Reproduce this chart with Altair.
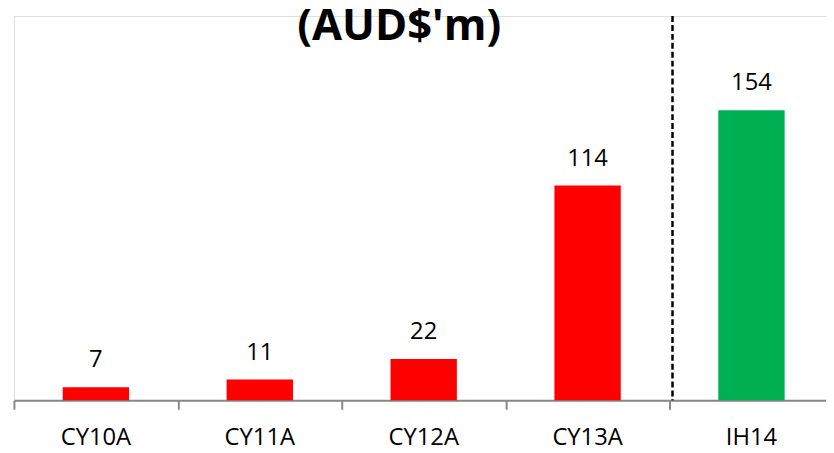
import altair as alt
import pandas as pd

categories = ["CY10A", "CY11A", "CY12A", "CY13A", "IH14"]
values = [7, 11, 22, 114, 154]
colors = ["#FF0000", "#FF0000", "#FF0000", "#FF0000", "#00B050"]
title_text = "(AUD$'m)"
divider_before = "IH14"

positions = [i + 0.5 for i in range(len(categories))]
df = pd.DataFrame({"cat": categories, "val": values, "pos": positions})

FONT = "Open Sans"
W, H = 820, 388
STEP = 165.5  # pixel width of one category slot

x_scale = alt.Scale(domain=[0, W / STEP], nice=False, zero=False, padding=0)
y_scale = alt.Scale(domain=[0, 204], nice=False, padding=0)

base = alt.Chart(df)

bars = base.mark_bar(size=67).encode(
    x=alt.X("pos:Q", scale=x_scale,
            axis=alt.Axis(title=None, labels=False, values=list(range(len(categories))),
                          domainColor="#878787", domainWidth=2,
                          tickColor="#878787", tickWidth=2, tickSize=9, grid=False)),
    y=alt.Y("val:Q", scale=y_scale, axis=None),
    color=alt.Color("cat:N", scale=alt.Scale(domain=categories, range=colors), legend=None),
)

value_labels = base.mark_text(dy=-20, baseline="alphabetic", font=FONT, fontSize=24, color="#000000").encode(
    x=alt.X("pos:Q", scale=x_scale),
    y=alt.Y("val:Q", scale=y_scale),
    text="val:Q",
)

cat_labels = base.mark_text(baseline="alphabetic", font=FONT, fontSize=24, color="#000000").encode(
    x=alt.X("pos:Q", scale=x_scale),
    y=alt.value(H + 45),
    text="cat:N",
)

div_df = pd.DataFrame({"b": [categories.index(divider_before)]})
divider = alt.Chart(div_df).mark_rule(
    color="#000000", strokeWidth=2.5, strokeDash=[6, 3], xOffset=3
).encode(
    x=alt.X("b:Q", scale=x_scale),
    y=alt.value(0),
    y2=alt.value(H),
)

title = alt.Chart(pd.DataFrame({"t": [title_text]})).mark_text(
    font=FONT, fontSize=44, fontWeight="bold", baseline="alphabetic", align="center", color="#000000"
).encode(
    text="t:N",
    x=alt.value(389),
    y=alt.value(24),
)

chart = alt.layer(bars, value_labels, cat_labels, divider, title).properties(
    width=W, height=H,
    autosize=alt.AutoSizeParams(type="none"),
    padding={"left": 6, "top": 6, "right": 0, "bottom": 51},
).configure_view(stroke="transparent", strokeWidth=0).configure(background="white")

chart.save("out.html", embed_options={"renderer": "svg", "actions": False})
